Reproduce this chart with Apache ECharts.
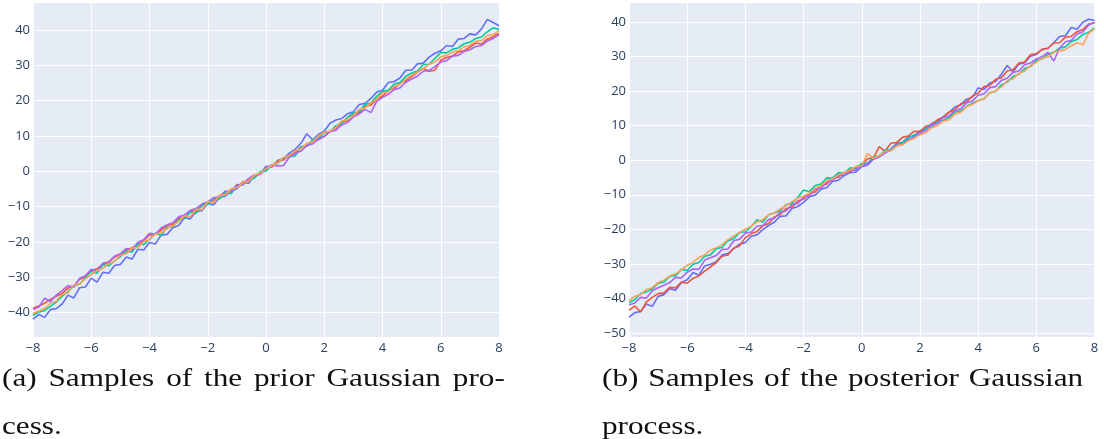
<!DOCTYPE html>
<html>
<head>
<meta charset="utf-8">
<script src="https://cdn.jsdelivr.net/npm/echarts@6/dist/echarts.min.js"></script>
<style>
  html, body { margin: 0; padding: 0; background: #ffffff; }
  #wrap { position: relative; width: 1104px; height: 439px; overflow: hidden; }
  #chart { position: absolute; left: 0; top: 0; width: 1104px; height: 439px; }
  .cap {
    position: absolute;
    font-family: "Liberation Serif", "DejaVu Serif", serif;
    font-size: 26px;
    line-height: 26px;
    color: #111;
    white-space: nowrap;
    transform-origin: 0 0;
    transform: scaleX(1.2);
  }
  .just { text-align: justify; text-align-last: justify; }
</style>
</head>
<body>
<div id="wrap">
  <div id="chart"></div>
  <div class="cap just" style="left:2px; top:365px; width:419px;">(a) Samples of the prior Gaussian pro-</div>
  <div class="cap" style="left:2px; top:413px;">cess.</div>
  <div class="cap just" style="left:602px; top:365px; width:401px;">(b) Samples of the posterior Gaussian</div>
  <div class="cap" style="left:602px; top:413px;">process.</div>
</div>
<script>
// Sample grid: x runs from -8 to 8 in steps of 0.2 (81 points)
const X_START = -8;
const X_STEP = 0.2;

// Prior samples
const priorBlue = [
  -41.9, -40.6, -41.4, -39.2, -38.9,
  -37.6, -35.1, -35.9, -33.0, -32.8,
  -30.3, -31.4, -28.6, -28.9, -26.7,
  -26.4, -24.3, -24.9, -22.1, -22.3,
  -20.2, -20.6, -18.1, -17.9, -16.0,
  -15.4, -13.2, -13.5, -11.4, -11.2,
  -9.1, -9.6, -7.4, -7.1, -5.5,
  -5.0, -3.2, -3.4, -1.3, -0.7,
  1.4, 1.2, 3.0, 3.6, 5.1,
  6.2, 7.9, 10.6, 8.9, 10.4,
  11.4, 13.6, 14.5, 14.9, 16.3,
  16.8, 18.9, 19.2, 20.6, 22.4,
  22.9, 25.1, 25.4, 26.4, 28.6,
  28.6, 30.4, 30.6, 32.3, 33.4,
  34.1, 35.6, 35.3, 37.4, 37.6,
  38.9, 38.6, 40.3, 43.0, 42.1,
  41.2
];
const priorRed = [
  -38.8, -38.2, -37.4, -36.3, -35.4,
  -34.6, -33.1, -32.5, -30.6, -30.0,
  -28.1, -27.6, -26.4, -25.8, -24.3,
  -23.6, -22.4, -21.7, -20.9, -19.6,
  -18.1, -17.8, -16.7, -15.4, -15.1,
  -13.3, -13.1, -11.5, -11.2, -9.8,
  -8.8, -8.3, -6.9, -6.6, -5.2,
  -4.6, -3.1, -2.7, -1.2, -0.8,
  0.6, 1.3, 2.9, 3.2, 4.6,
  5.2, 6.9, 7.1, 8.4, 8.9,
  9.9, 11.4, 12.1, 13.9, 14.3,
  16.1, 16.6, 18.5, 18.7, 20.4,
  21.3, 22.9, 23.5, 24.9, 25.6,
  26.8, 28.0, 29.1, 28.3, 28.6,
  31.4, 32.2, 32.6, 33.8, 34.1,
  35.1, 36.3, 36.0, 37.4, 38.1,
  39.0
];
const priorGreen = [
  -40.8, -39.9, -39.5, -38.2, -37.1,
  -35.4, -34.1, -32.4, -32.0, -30.1,
  -28.4, -28.9, -26.5, -26.8, -25.4,
  -24.2, -22.6, -22.9, -20.5, -20.8,
  -19.3, -17.6, -18.2, -15.9, -15.8,
  -13.7, -13.4, -11.6, -11.9, -9.6,
  -9.4, -7.6, -7.9, -5.9, -6.4,
  -4.1, -3.9, -2.2, -2.0, -0.2,
  0.1, 1.8, 2.2, 3.9, 4.1,
  4.3, 6.9, 7.2, 8.8, 9.3,
  10.9, 11.2, 12.9, 13.5, 15.3,
  16.4, 16.9, 18.9, 19.4, 21.2,
  22.6, 22.9, 24.7, 25.1, 26.9,
  27.8, 28.4, 30.2, 30.3, 32.0,
  33.6, 33.5, 34.5, 34.9, 36.1,
  36.5, 37.6, 38.0, 39.5, 40.6,
  40.1
];
const priorPurple = [
  -39.2, -38.5, -36.0, -36.9, -35.1,
  -33.8, -32.4, -32.9, -30.3, -29.6,
  -27.8, -28.2, -26.0, -25.7, -24.1,
  -23.4, -21.9, -22.3, -20.1, -19.4,
  -17.6, -17.9, -16.1, -15.2, -14.6,
  -12.9, -12.4, -11.1, -10.6, -9.3,
  -8.7, -7.5, -7.3, -5.6, -5.9,
  -3.8, -3.9, -2.1, -1.0, -0.9,
  0.9, 1.8, 1.5, 1.6, 4.0,
  5.0, 5.7, 7.3, 7.7, 9.1,
  9.8, 11.2, 11.6, 13.1, 13.8,
  15.4, 16.2, 17.5, 16.6, 19.8,
  20.9, 21.8, 23.1, 23.6, 25.2,
  26.1, 26.9, 28.3, 28.5, 29.6,
  30.9, 31.3, 32.6, 32.8, 33.9,
  34.4, 35.3, 35.6, 36.9, 37.6,
  38.6
];
const priorOrange = [
  -40.3, -39.6, -38.9, -37.4, -36.8,
  -34.9, -34.4, -32.2, -31.9, -30.5,
  -29.3, -28.1, -27.6, -26.2, -25.6,
  -23.8, -23.4, -21.8, -21.6, -19.9,
  -19.4, -17.8, -17.5, -16.3, -15.5,
  -14.2, -12.6, -12.9, -10.8, -10.9,
  -8.6, -8.9, -7.0, -6.7, -5.0,
  -4.7, -3.3, -2.8, -1.1, -0.6,
  0.7, 1.6, 2.4, 3.9, 4.4,
  5.8, 6.3, 7.9, 8.3, 9.9,
  11.1, 11.3, 12.4, 14.2, 14.6,
  15.8, 17.5, 17.9, 19.4, 20.3,
  22.2, 22.5, 24.0, 24.6, 26.1,
  27.2, 28.1, 29.0, 30.3, 30.9,
  32.4, 32.8, 33.7, 34.1, 35.2,
  35.6, 36.8, 37.0, 38.4, 38.7,
  39.8
];

// Posterior samples
const postBlue = [
  -45.4, -44.1, -43.8, -41.6, -42.3,
  -39.4, -38.9, -37.2, -37.6, -35.4,
  -34.6, -32.5, -33.3, -30.6, -30.1,
  -29.4, -27.4, -27.0, -25.6, -24.3,
  -23.8, -22.0, -21.6, -20.1, -18.9,
  -17.9, -16.2, -16.1, -14.0, -13.4,
  -12.2, -10.6, -10.1, -8.4, -7.9,
  -6.1, -5.8, -4.4, -3.6, -3.4,
  -1.9, -1.4, 0.3, 0.9, 2.1,
  3.2, 4.9, 5.1, 6.8, 7.0,
  8.5, 9.1, 10.6, 11.2, 12.6,
  13.8, 15.4, 16.0, 17.6, 18.2,
  20.9, 20.5, 22.3, 22.8, 24.9,
  27.4, 25.6, 27.8, 28.2, 30.1,
  30.6, 32.1, 32.4, 34.0, 35.8,
  36.0, 38.4, 37.9, 39.9, 40.8,
  40.5
];
const postRed = [
  -43.4, -42.2, -43.9, -41.0, -39.7,
  -38.6, -38.4, -36.8, -36.9, -35.3,
  -35.6, -34.2, -33.5, -32.1, -30.9,
  -29.6, -27.8, -27.4, -25.4, -24.8,
  -22.4, -21.3, -20.6, -19.0, -18.3,
  -16.4, -15.7, -14.0, -13.6, -11.8,
  -11.3, -9.6, -9.2, -7.4, -6.9,
  -5.2, -5.0, -3.6, -3.3, -1.9,
  -1.3, 0.4, 0.7, 3.9, 2.6,
  4.9, 5.1, 6.6, 7.0, 8.4,
  8.3, 9.8, 10.2, 11.7, 12.4,
  13.9, 14.6, 16.3, 16.8, 18.6,
  19.4, 21.3, 21.6, 23.4, 23.9,
  25.8, 26.2, 28.1, 28.4, 30.6,
  30.8, 32.0, 32.4, 33.9, 34.0,
  35.6, 35.8, 37.2, 37.8, 39.4,
  39.7
];
const postGreen = [
  -41.2, -40.3, -38.6, -38.1, -37.3,
  -35.6, -35.3, -33.6, -33.4, -31.6,
  -31.9, -30.1, -29.6, -27.8, -27.4,
  -25.6, -25.2, -23.3, -22.7, -20.9,
  -20.7, -19.2, -17.2, -17.9, -15.8,
  -15.3, -14.6, -12.9, -12.5, -10.8,
  -8.6, -9.1, -7.3, -6.9, -5.1,
  -5.2, -3.6, -3.8, -2.2, -2.5,
  -0.9, -0.8, 0.9, 1.2, 2.9,
  3.1, 4.6, 5.0, 6.4, 7.3,
  7.6, 9.3, 9.5, 11.1, 11.5,
  12.4, 13.9, 14.3, 15.6, 16.4,
  17.3, 17.8, 19.6, 19.9, 21.8,
  22.6, 24.2, 24.9, 26.5, 27.1,
  28.9, 29.3, 30.7, 31.2, 32.4,
  32.8, 34.3, 34.9, 36.4, 37.0,
  38.3
];
const postPurple = [
  -41.8, -41.3, -39.7, -39.9, -37.8,
  -36.9, -36.2, -35.4, -33.9, -34.1,
  -32.4, -31.5, -31.6, -28.9, -28.2,
  -27.6, -25.8, -25.7, -23.3, -22.9,
  -21.1, -20.8, -19.1, -18.9, -17.2,
  -16.8, -15.0, -14.7, -12.8, -12.5,
  -10.7, -10.3, -8.4, -8.1, -6.3,
  -5.8, -4.3, -4.4, -2.6, -2.9,
  -1.6, -0.9, 0.4, 1.1, 2.2,
  2.8, 4.3, 4.5, 5.9, 6.6,
  7.9, 8.6, 10.3, 10.6, 12.3,
  12.8, 14.4, 14.9, 16.6, 17.1,
  18.8, 19.2, 21.0, 21.3, 23.1,
  23.7, 25.4, 25.8, 27.6, 28.1,
  29.3, 30.0, 31.2, 28.7, 32.4,
  34.3, 34.6, 36.5, 37.2, 39.1,
  39.9
];
const postOrange = [
  -40.6, -39.4, -38.9, -37.4, -36.9,
  -35.4, -34.7, -33.5, -32.9, -31.7,
  -30.4, -29.6, -28.1, -27.4, -26.0,
  -25.3, -24.5, -23.0, -21.9, -20.9,
  -19.9, -19.1, -17.8, -17.2, -15.8,
  -15.2, -14.1, -13.2, -12.0, -11.0,
  -10.4, -9.6, -8.1, -7.4, -5.9,
  -5.4, -4.2, -3.7, -2.8, -1.9,
  -1.6, 1.9, 0.6, 1.2, 2.6,
  2.8, 4.1, 4.5, 5.6, 6.3,
  7.4, 7.9, 9.4, 10.0, 11.3,
  11.7, 13.4, 13.8, 15.5, 16.1,
  17.2, 17.7, 19.4, 20.1, 21.2,
  23.0, 23.6, 25.1, 25.8, 27.4,
  28.3, 29.6, 29.9, 31.3, 31.6,
  32.0, 33.1, 34.0, 33.4, 36.7,
  38.0
];

// Axis settings
const X_TICKS = { min: -8, max: 8, interval: 2 };
const Y_RANGE_PRIOR = { min: -46.96, max: 47.92 };
const Y_RANGE_POST = { min: -51.16, max: 45.78 };

const COLORS = ['#636efa', '#EF553B', '#00cc96', '#ab63fa', '#FFA15A'];
const LABEL_COLOR = '#2a3f5f';
const PLOT_BG = '#E5ECF6';

const priorSet = [priorBlue, priorRed, priorGreen, priorPurple, priorOrange];
const postSet = [postBlue, postRed, postGreen, postPurple, postOrange];

function toPairs(values) {
  return values.map((v, i) => [X_START + X_STEP * i, v]);
}
function minusSign(v) {
  return String(v).replace('-', '\u2212');
}

function xAxisFor(idx) {
  return {
    type: 'value', gridIndex: idx,
    min: X_TICKS.min, max: X_TICKS.max, interval: X_TICKS.interval,
    axisLine: { show: false }, axisTick: { show: false },
    splitLine: { show: true, lineStyle: { color: '#ffffff', width: 1 } },
    axisLabel: {
      color: LABEL_COLOR, fontFamily: 'Open Sans', fontSize: 13, margin: 5,
      formatter: minusSign
    }
  };
}
function yAxisFor(idx, range) {
  return {
    type: 'value', gridIndex: idx,
    min: range.min, max: range.max,
    splitNumber: 10, minInterval: 10, maxInterval: 10,
    axisLine: { show: false }, axisTick: { show: false },
    splitLine: { show: true, lineStyle: { color: '#ffffff', width: 1 } },
    axisLabel: {
      color: LABEL_COLOR, fontFamily: 'Open Sans', fontSize: 13, margin: 3,
      showMinLabel: false, showMaxLabel: false,
      formatter: minusSign
    }
  };
}

const series = [];
[priorSet, postSet].forEach((set, g) => {
  set.forEach((vals, k) => {
    series.push({
      type: 'line', xAxisIndex: g, yAxisIndex: g,
      data: toPairs(vals),
      showSymbol: false, symbol: 'none',
      lineStyle: { color: COLORS[k], width: 1.6 },
      itemStyle: { color: COLORS[k] },
      z: 2 + k,
      silent: true
    });
  });
});

const chart = echarts.init(document.getElementById('chart'), null, { renderer: 'canvas' });
chart.setOption({
  animation: false,
  backgroundColor: '#ffffff',
  grid: [
    { left: 33, top: 2, width: 466, height: 335, show: true, backgroundColor: PLOT_BG, borderWidth: 0 },
    { left: 629, top: 2, width: 465.5, height: 335, show: true, backgroundColor: PLOT_BG, borderWidth: 0 }
  ],
  xAxis: [xAxisFor(0), xAxisFor(1)],
  yAxis: [yAxisFor(0, Y_RANGE_PRIOR), yAxisFor(1, Y_RANGE_POST)],
  series: series
});
</script>
</body>
</html>
